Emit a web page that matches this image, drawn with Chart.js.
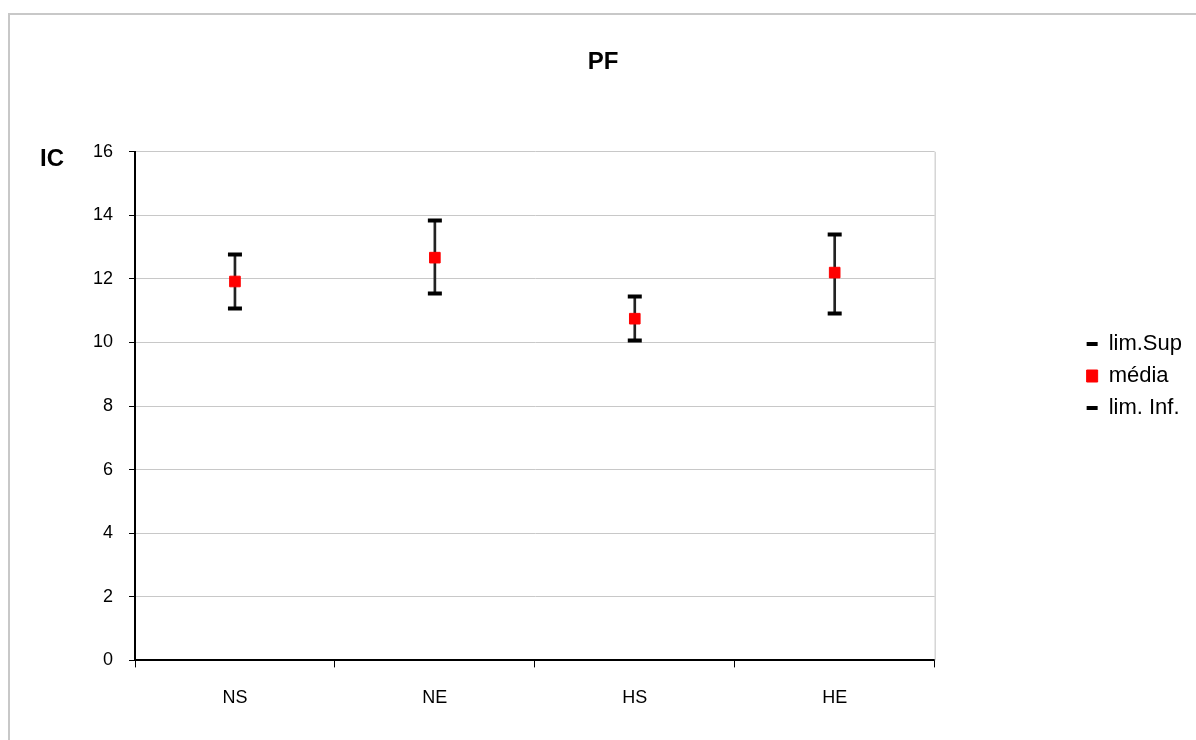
<!DOCTYPE html>
<html>
<head>
<meta charset="utf-8">
<script src="https://cdn.jsdelivr.net/npm/chart.js@4"></script>
<style>
  html, body { margin: 0; padding: 0; background: #fff; }
  #wrap { width: 1196px; height: 740px; }
</style>
</head>
<body>
<div id="wrap"><canvas id="mychart" width="1196" height="740"></canvas></div>
<script>
// values
const groups = ["NS", "NE", "HS", "HE"];
const limSup = [12.77, 13.84, 11.45, 13.40];
const media  = [11.92, 12.67, 10.75, 12.20];
const limInf = [11.07, 11.54, 10.06, 10.91];
const yTicks = [0, 2, 4, 6, 8, 10, 12, 14, 16];

const FONT = "'Liberation Sans', Arial, sans-serif";

// gray frame, right border of plot area and the "IC" label
const extras = {
  id: "extras",
  beforeDraw(chart) {
    const c = chart.ctx;
    c.save();
    c.strokeStyle = "#c8c8c8";
    c.lineWidth = 2;
    c.strokeRect(9, 14, 1220, 760);
    c.restore();
  },
  beforeDatasetsDraw(chart) {
    const a = chart.chartArea, c = chart.ctx;
    c.save();
    c.strokeStyle = "#c0c0c0";
    c.lineWidth = 1;
    c.beginPath();
    c.moveTo(a.right + 0.5, a.top);
    c.lineTo(a.right + 0.5, a.bottom);
    c.stroke();
    c.restore();
  },
  afterDraw(chart) {
    const c = chart.ctx;
    c.save();
    c.fillStyle = "#000";
    c.font = "bold 24px " + FONT;
    c.textBaseline = "middle";
    c.fillText("IC", 40, chart.chartArea.top + 8);
    c.restore();
  }
};

const ctx = document.getElementById("mychart").getContext("2d");
new Chart(ctx, {
  type: "bar",
  data: {
    labels: groups,
    datasets: [
      {
        type: "line",
        label: "lim.Sup",
        data: limSup,
        showLine: false,
        pointStyle: "line",
        pointRadius: 7,
        pointBorderWidth: 4,
        borderWidth: 4,
        borderColor: "#000",
        backgroundColor: "#000",
        order: 0
      },
      {
        type: "line",
        label: "média",
        data: media,
        showLine: false,
        pointStyle: "rect",
        pointRadius: 7.5,
        pointBorderWidth: 1,
        borderWidth: 1,
        borderColor: "#ff0000",
        backgroundColor: "#ff0000",
        order: 0
      },
      {
        type: "line",
        label: "lim. Inf.",
        data: limInf,
        showLine: false,
        pointStyle: "line",
        pointRadius: 7,
        pointBorderWidth: 4,
        borderWidth: 4,
        borderColor: "#000",
        backgroundColor: "#000",
        order: 0
      },
      {
        // hi-lo connector
        label: "range",
        data: groups.map((g, i) => [limInf[i], limSup[i]]),
        backgroundColor: "#222",
        barThickness: 2,
        order: 10
      }
    ]
  },
  options: {
    responsive: false,
    animation: false,
    layout: { padding: { left: 14, right: 4, top: 0, bottom: 11 } },
    plugins: {
      title: {
        display: true,
        text: "PF",
        color: "#000",
        font: { family: FONT, size: 24, weight: "bold" },
        padding: { top: 48, bottom: 75 }
      },
      legend: {
        display: true,
        position: "right",
        title: { display: true, text: "", font: { size: 10 }, padding: { top: 0, bottom: 11 } },
        labels: {
          usePointStyle: true,
          pointStyleWidth: 11,
          boxWidth: 12,
          boxHeight: 12,
          padding: 10,
          color: "#000",
          font: { family: FONT, size: 22 },
          filter: (item) => item.text !== "range",
          sort: (a, b) => a.datasetIndex - b.datasetIndex
        }
      },
      tooltip: { enabled: false }
    },
    scales: {
      x: {
        offset: true,
        grid: {
          offset: true,
          drawOnChartArea: false,
          drawTicks: true,
          tickLength: 7,
          tickColor: "#000"
        },
        border: { color: "#000", width: 2 },
        ticks: { color: "#000", padding: 20, font: { family: FONT, size: 18 } }
      },
      y: {
        min: 0,
        max: 16,
        afterFit(scale) { scale.width = 121; },
        afterBuildTicks(scale) { scale.ticks = yTicks.map(v => ({ value: v })); },
        grid: { color: "#c8c8c8", tickColor: "#000", tickLength: 6 },
        border: { color: "#000", width: 2 },
        ticks: { color: "#000", padding: 16, font: { family: FONT, size: 18 } }
      },
      y2: {
        position: "right",
        display: true,
        afterFit(scale) { scale.width = 142; },
        grid: { drawOnChartArea: false, drawTicks: false },
        border: { display: false },
        ticks: { display: false }
      }
    }
  },
  plugins: [extras]
});
</script>
</body>
</html>
